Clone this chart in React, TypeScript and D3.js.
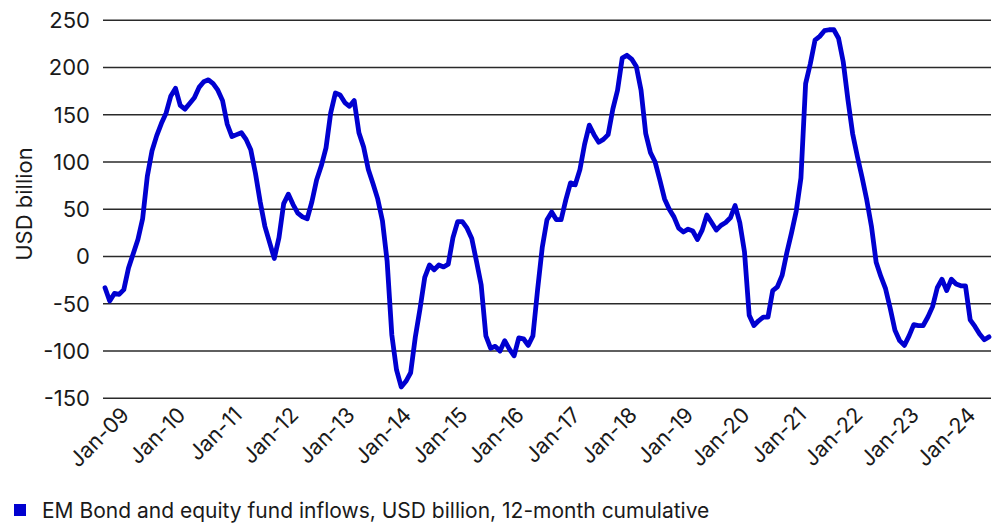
import React from 'react';
import { scaleLinear, scalePoint, line, timeMonth, timeFormat } from 'd3';

// 12-month cumulative EM bond + equity fund inflows, USD bn, monthly Aug-08 .. Apr-24
const startMonth = new Date(2008, 7, 1);
const endMonth = new Date(2024, 4, 1);
const months = timeMonth.range(startMonth, endMonth).map(timeFormat('%b-%y'));

const inflows = [
  -33, -47, -39, -40, -35, -12, 3, 18, 40, 85, 112, 128, 141, 152, 170, 178,
  160, 156, 162, 168, 179, 185, 187, 183, 176, 165, 140, 127, 129, 131, 124, 113,
  88, 58, 32, 15, -2, 20, 56, 66, 55, 46, 42, 40, 58, 81, 96, 115,
  152, 173, 171, 163, 159, 165, 131, 116, 92, 77, 61, 38, -5, -83, -120, -138,
  -132, -123, -85, -55, -22, -9, -14, -9, -11, -8, 20, 37, 37, 30, 19, -5,
  -30, -84, -97, -95, -100, -89, -98, -105, -86, -87, -94, -84, -35, 10, 39, 47,
  39, 39, 60, 78, 76, 92, 119, 139, 129, 121, 124, 129, 156, 176, 210, 213,
  209, 201, 176, 130, 110, 100, 81, 61, 50, 42, 30, 26, 29, 27, 18, 28,
  44, 36, 28, 33, 36, 41, 54, 36, 5, -62, -73, -68, -64, -64, -36, -32,
  -20, 4, 25, 48, 83, 183, 204, 229, 233, 239, 240, 240, 231, 206, 166, 130,
  106, 84, 60, 32, -6, -21, -34, -55, -78, -89, -94, -84, -72, -73, -73, -64,
  -53, -33, -24, -36, -24, -29, -31, -31, -67, -74, -82, -88, -85,
];

const xTickLabels = [
  'Jan-09', 'Jan-10', 'Jan-11', 'Jan-12', 'Jan-13', 'Jan-14', 'Jan-15', 'Jan-16',
  'Jan-17', 'Jan-18', 'Jan-19', 'Jan-20', 'Jan-21', 'Jan-22', 'Jan-23', 'Jan-24',
];
const yTicks = [-150, -100, -50, 0, 50, 100, 150, 200, 250];

const seriesName = 'EM Bond and equity fund inflows, USD billion, 12-month cumulative';
const lineColor = '#0000d0';
const font = 'Inter, "Noto Sans", sans-serif';

const dims = {
  width: 1000,
  height: 527,
  gridLeft: 103,
  gridRight: 991,
  lineLeft: 105,
  lineRight: 989,
  top: 20.3,
  bottom: 398.3,
};

const App = () => {
  const xScale = scalePoint<string>()
    .domain(months)
    .range([dims.lineLeft, dims.lineRight]);
  const yScale = scaleLinear()
    .domain([-150, 250])
    .range([dims.bottom, dims.top]);

  const points = inflows.map((v, i) => ({ m: months[i], v }));
  const path = line<{ m: string; v: number }>()
    .x((d) => xScale(d.m) as number)
    .y((d) => yScale(d.v))(points);

  return (
    <svg
      width={dims.width}
      height={dims.height}
      style={{ position: 'absolute', left: 0, top: 0, background: '#fff' }}
      fontFamily={font}
    >
      {yTicks.map((t) => (
        <g key={t}>
          <line
            x1={dims.gridLeft}
            x2={dims.gridRight}
            y1={yScale(t)}
            y2={yScale(t)}
            stroke='#2a2a2a'
            strokeWidth={1.4}
          />
          <text
            x={90}
            y={yScale(t)}
            dy='0.36em'
            textAnchor='end'
            fontSize={22}
            fill='#1a1a1a'
          >
            {t}
          </text>
        </g>
      ))}

      <text
        transform={`translate(32,204) rotate(-90)`}
        textAnchor='middle'
        fontSize={22}
        fill='#1a1a1a'
      >
        USD billion
      </text>

      {xTickLabels.map((lab) => (
        <text
          key={lab}
          transform={`translate(${(xScale(lab) as number) + 2},${dims.bottom + 18}) rotate(-45)`}
          textAnchor='end'
          fontSize={21.5}
          fill='#1a1a1a'
        >
          {lab}
        </text>
      ))}

      <path
        d={path || ''}
        fill='none'
        stroke={lineColor}
        strokeWidth={4.8}
        strokeLinejoin='round'
        strokeLinecap='round'
      />

      <rect x={14} y={504} width={12} height={12} fill={lineColor} />
      <text x={42} y={518} fontSize={21} fill='#1a1a1a'>
        {seriesName}
      </text>
    </svg>
  );
};

export default App;
